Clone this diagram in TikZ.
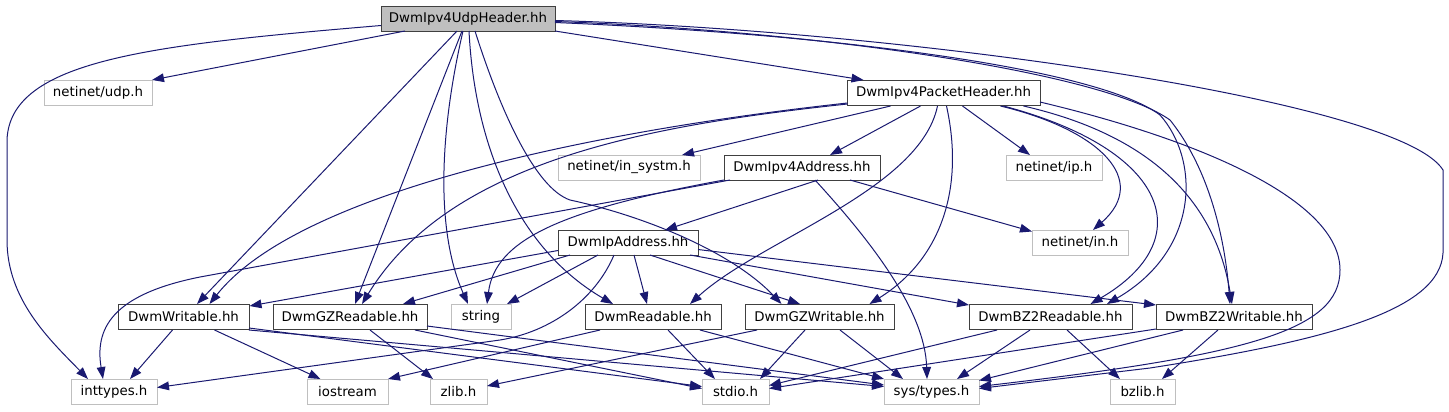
\documentclass[tikz,border=0pt]{standalone}
\usepackage{fontspec}
\setmainfont{DejaVu Sans}
\usetikzlibrary{arrows.meta, calc}
\definecolor{edgeblue}{HTML}{191970}
\definecolor{sysgray}{HTML}{BFBFBF}

\begin{document}
\begin{tikzpicture}[x=0.75pt, y=-0.75pt, font=\fontsize{10}{12}\selectfont,
    file/.style={draw=black!75, fill=white, minimum height=18.75pt, inner sep=0pt, line width=0.75pt},
    sys/.style={file, draw=sysgray},
    wd/.style={minimum width=#1*0.75pt},
    dep/.style={draw=edgeblue, line width=0.75pt, -{Triangle[length=9pt, width=6.5pt]}}]
  \useasboundingbox (0,0) rectangle (1449,411);

  % files
  \node[file, wd=174, fill=sysgray] (root) at (468,18.5) {DwmIpv4UdpHeader.hh};
  \node[sys, wd=108] (udp) at (98,92.5) {netinet/udp.h};
  \node[file, wd=193] (pkt) at (943.5,93) {DwmIpv4PacketHeader.hh};
  \node[sys, wd=142] (insystm) at (629,167.5) {netinet/in\_systm.h};
  \node[file, wd=156] (v4addr) at (802,167.5) {DwmIpv4Address.hh};
  \node[sys, wd=96] (ip) at (1054,167.5) {netinet/ip.h};
  \node[sys, wd=96] (in) at (1080,242.5) {netinet/in.h};
  \node[file, wd=140] (ipaddr) at (628,242.5) {DwmIpAddress.hh};
  \node[file, wd=131] (wr) at (183.5,317) {DwmWritable.hh};
  \node[file, wd=154] (gzr) at (350,317) {DwmGZReadable.hh};
  \node[sys, wd=60] (string) at (481,317) {string};
  \node[file, wd=136] (rd) at (653,317) {DwmReadable.hh};
  \node[file, wd=149] (gzw) at (819.5,317) {DwmGZWritable.hh};
  \node[file, wd=163] (bz2r) at (1050.5,317) {DwmBZ2Readable.hh};
  \node[file, wd=156] (bz2w) at (1234,317) {DwmBZ2Writable.hh};
  \node[sys, wd=86] (inttypes) at (114,391.5) {inttypes.h};
  \node[sys, wd=81] (iostream) at (347.5,391.5) {iostream};
  \node[sys, wd=57] (zlib) at (458.5,391.5) {zlib.h};
  \node[sys, wd=67] (stdio) at (735.5,391.5) {stdio.h};
  \node[sys, wd=95] (systypes) at (931.5,391.5) {sys/types.h};
  \node[sys, wd=65] (bzlib) at (1142.5,391.5) {bzlib.h};

  % DwmIpv4UdpHeader.hh
  \draw[dep] ($(root)+(-63,12.5)$) -- ($(udp)+(54,-12.5)$);
  \draw[dep] ($(root)+(87,12.5)$) -- ($(pkt)+(-80,-13)$);
  \draw[dep] ($(root)+(-87,7)$) .. controls (150,45) and (10,60) .. (7,140) -- (7,240)
    .. controls (7,300) and (50,340) .. ($(inttypes)+(-26,-12.5)$);
  \draw[dep] ($(root)+(-11,12.5)$) -- ($(wr)+(13.5,-13)$);
  \draw[dep] ($(root)+(-6,12.5)$) -- ($(gzr)+(5,-13)$);
  \draw[dep] ($(root)+(-5,12.5)$) .. controls (440,130) and (435,230) .. ($(string)+(-13,-13)$);
  \draw[dep] ($(root)+(1,12.5)$) .. controls (475,150) and (520,250) .. ($(rd)+(-40,-13)$);
  \draw[dep] ($(root)+(7,12.5)$) .. controls (500,110) and (535,188) .. (570,200)
    .. controls (640,215) and (730,250) .. ($(gzw)+(-38,-13)$);
  \draw[dep] ($(root)+(87,4)$) .. controls (850,35) and (1100,70) .. (1160,115)
    .. controls (1200,160) and (1200,250) .. ($(bz2r)+(56.5,-13)$);
  \draw[dep] ($(root)+(87,3)$) .. controls (800,30) and (1100,70) .. (1170,120)
    .. controls (1210,170) and (1225,240) .. ($(bz2w)+(-4,-13)$);
  \draw[dep] ($(root)+(87,2)$) .. controls (900,30) and (1400,100) .. (1443,170) -- (1443,253)
    .. controls (1440,310) and (1330,340) .. (1150,368) -- ($(systypes)+(47.5,-3)$);

  % DwmIpv4PacketHeader.hh
  \draw[dep] ($(pkt)+(-53,13)$) -- ($(insystm)+(53,-12.5)$);
  \draw[dep] ($(pkt)+(-23,13)$) -- ($(v4addr)+(28,-12.5)$);
  \draw[dep] ($(pkt)+(19,13)$) -- ($(ip)+(-24,-12.5)$);
  \draw[dep] ($(pkt)+(57,13)$) .. controls (1100,130) and (1150,180) .. ($(in)+(13,-12.5)$);
  \draw[dep] ($(pkt)+(-96,10)$) .. controls (600,130) and (300,190) .. ($(wr)+(26,-13)$);
  \draw[dep] ($(pkt)+(-96,11)$) .. controls (650,125) and (450,160) .. ($(gzr)+(12,-13)$);
  \draw[dep] ($(pkt)+(-6,13)$) .. controls (920,190) and (760,240) .. ($(rd)+(37,-13)$);
  \draw[dep] ($(pkt)+(3,13)$) .. controls (965,190) and (940,260) .. ($(gzw)+(50,-13)$);
  \draw[dep] ($(pkt)+(60,13)$) .. controls (1170,150) and (1200,240) .. ($(bz2r)+(40,-13)$);
  \draw[dep] ($(pkt)+(80,13)$) .. controls (1150,135) and (1215,200) .. ($(bz2w)+(-2,-13)$);
  \draw[dep] ($(pkt)+(96.5,9)$) .. controls (1200,140) and (1340,200) .. (1340,270)
    .. controls (1340,330) and (1250,355) .. ($(systypes)+(47.5,-5)$);

  % DwmIpv4Address.hh
  \draw[dep] ($(v4addr)+(16,12.5)$) -- ($(ipaddr)+(37,-12.5)$);
  \draw[dep] ($(v4addr)+(-72,12.5)$) -- (200,277) .. controls (110,295) and (95,330) .. ($(inttypes)+(-11,-12.5)$);
  \draw[dep] ($(v4addr)+(-78,12.5)$) .. controls (560,210) and (495,240) .. ($(string)+(6,-13)$);
  \draw[dep] ($(v4addr)+(48,12.5)$) -- ($(in)+(-48,-11)$);
  \draw[dep] ($(v4addr)+(13,12.5)$) .. controls (870,240) and (925,310) .. ($(systypes)+(-4.5,-12.5)$);

  % DwmIpAddress.hh
  \draw[dep] ($(ipaddr)+(-70,8)$) -- ($(wr)+(66,-11)$);
  \draw[dep] ($(ipaddr)+(-58,12.5)$) -- ($(gzr)+(53,-13)$);
  \draw[dep] ($(ipaddr)+(-30,12.5)$) -- ($(string)+(26,-13)$);
  \draw[dep] ($(ipaddr)+(-14,12.5)$) .. controls (595,300) and (550,332) .. (500,340) -- ($(inttypes)+(43,-4)$);
  \draw[dep] ($(ipaddr)+(6,12.5)$) -- ($(rd)+(-6,-13)$);
  \draw[dep] ($(ipaddr)+(22,12.5)$) -- ($(gzw)+(-19.5,-13)$);
  \draw[dep] ($(ipaddr)+(62,12.5)$) -- ($(bz2r)+(-81.5,-12)$);
  \draw[dep] ($(ipaddr)+(70,7)$) -- ($(bz2w)+(-78,-12)$);

  % readers and writers
  \draw[dep] ($(wr)+(-11,13)$) -- ($(inttypes)+(16,-12.5)$);
  \draw[dep] ($(wr)+(31,13)$) -- ($(iostream)+(-27,-12.5)$);
  \draw[dep] ($(wr)+(65.5,11)$) -- ($(stdio)+(-33.5,-5)$);
  \draw[dep] ($(wr)+(65.5,13)$) -- ($(systypes)+(-47.5,-5)$);
  \draw[dep] ($(gzr)+(20,13)$) -- ($(zlib)+(-25.5,-12.5)$);
  \draw[dep] ($(gzr)+(65,13)$) -- ($(stdio)+(-33.5,-3)$);
  \draw[dep] ($(gzr)+(77,9)$) -- ($(systypes)+(-47.5,-6.5)$);
  \draw[dep] ($(rd)+(-53,13)$) -- ($(iostream)+(40.5,-12.5)$);
  \draw[dep] ($(rd)+(15,13)$) -- ($(stdio)+(-20.5,-12.5)$);
  \draw[dep] ($(rd)+(47,13)$) -- ($(systypes)+(-47.5,-12.5)$);
  \draw[dep] ($(gzw)+(-62.5,13)$) -- ($(zlib)+(28.5,-5.5)$);
  \draw[dep] ($(gzw)+(-14.5,13)$) -- ($(stdio)+(24.5,-12.5)$);
  \draw[dep] ($(gzw)+(20.5,13)$) -- ($(systypes)+(-28.5,-12.5)$);
  \draw[dep] ($(bz2r)+(-53.5,13)$) -- ($(stdio)+(33.5,-6)$);
  \draw[dep] ($(bz2r)+(-20.5,13)$) -- ($(systypes)+(25.5,-12.5)$);
  \draw[dep] ($(bz2r)+(16.5,13)$) -- ($(bzlib)+(-22.5,-12.5)$);
  \draw[dep] ($(bz2w)+(-78,12)$) -- ($(stdio)+(33.5,-3)$);
  \draw[dep] ($(bz2w)+(-51,13)$) -- ($(systypes)+(47.5,-11)$);
  \draw[dep] ($(bz2w)+(-16,13)$) -- ($(bzlib)+(19.5,-12.5)$);
\end{tikzpicture}
\end{document}
